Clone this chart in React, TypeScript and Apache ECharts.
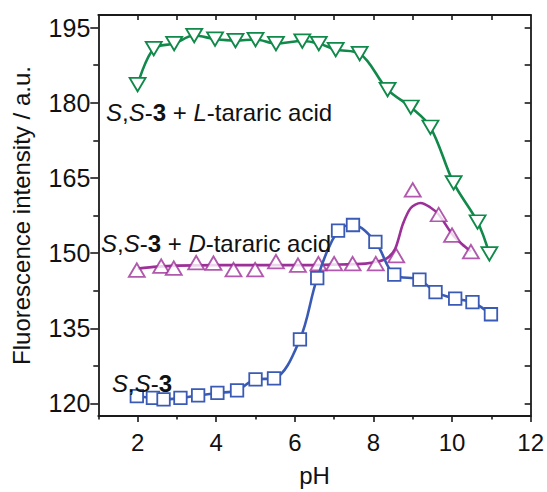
import React, { useEffect, useRef } from "react";
import * as echarts from "echarts";

// S,S-3 + L-tartaric acid (down triangles, green)
const lTarX = [2.0, 2.41, 2.93, 3.44, 3.97, 4.49, 5.0, 5.52, 6.19, 6.61, 7.04, 7.65, 8.36, 8.95, 9.45, 10.04, 10.65, 10.95];
const lTarY = [183.6, 190.8, 191.8, 193.4, 192.7, 192.4, 192.6, 191.8, 192.3, 191.8, 190.6, 189.8, 182.6, 179.1, 175.1, 164.0, 156.2, 149.85];

// S,S-3 + D-tartaric acid (up triangles, magenta)
const dTarX = [1.98, 2.6, 2.92, 3.49, 3.93, 4.44, 4.99, 5.52, 6.08, 6.6, 7.0, 7.47, 8.06, 8.58, 9.0, 9.66, 10.0, 10.48];
const dTarY = [146.6, 147.4, 147.0, 148.1, 148.0, 146.7, 146.7, 148.3, 147.6, 147.9, 147.9, 147.9, 147.9, 149.5, 162.6, 157.7, 153.6, 150.3];

// fitted curve for D-tartaric acid
const dFitX = [2.0, 2.5, 3.0, 4.0, 5.0, 6.0, 7.0, 7.8, 8.1, 8.35, 8.55, 8.75, 8.95, 9.2, 9.45, 9.66, 10.0, 10.25, 10.48];
const dFitY = [146.9, 147.3, 147.5, 147.6, 147.6, 147.6, 147.7, 147.9, 148.3, 149.0, 150.8, 155.8, 159.0, 160.0, 159.1, 157.7, 153.8, 151.8, 150.3];

// S,S-3 alone (squares, blue)
const ssX = [1.98, 2.39, 2.66, 3.09, 3.54, 4.03, 4.53, 5.0, 5.47, 6.13, 6.57, 7.1, 7.48, 8.05, 8.53, 9.17, 9.58, 10.08, 10.52, 10.99];
const ssY = [121.45, 121.1, 120.8, 121.1, 121.6, 122.1, 122.6, 124.8, 125.0, 132.8, 145.0, 154.5, 155.6, 152.25, 145.7, 144.7, 142.2, 140.9, 140.2, 137.8];

const xMajor = [2, 4, 6, 8, 10, 12];
const xMinor = [1, 3, 5, 7, 9, 11];
const xTop = [2, 3, 4, 5, 6, 7, 8, 9, 10, 11];
const yMajor = [120, 135, 150, 165, 180, 195];
const yMinor = [127.5, 142.5, 157.5, 172.5, 187.5];
const yAll = [120, 127.5, 135, 142.5, 150, 157.5, 165, 172.5, 180, 187.5, 195];

const GREEN = "#11894a";
const MAGENTA = "#9c2f98";
const BLUE = "#3a5bb5";
const AXIS = "#1a1a1a";
const FONT = "'Liberation Sans', Arial, sans-serif";

const zip = (xs: number[], ys: number[]) => xs.map((x, i) => [x, ys[i]]);

export default function App() {
  const ref = useRef<HTMLDivElement>(null);
  useEffect(() => {
    if (!ref.current) return;
    const chart = echarts.init(ref.current, null, { renderer: "svg" });
    const lineAxis = { show: true, lineStyle: { color: AXIS, width: 1.8 } };
    const tickStyle = { color: AXIS, width: 1.6 };
    const rich = (size: number) => ({
      i: { fontStyle: "italic", fontSize: size, fontFamily: FONT, fill: "#111" },
      b: { fontWeight: "bold", fontSize: size, fontFamily: FONT, fill: "#111" },
    });
    const textStyle = (text: string, x: number, y: number) => ({
      type: "text",
      x,
      y,
      z: 100,
      style: {
        text,
        fontSize: 24,
        fontFamily: FONT,
        fill: "#111",
        align: "left",
        verticalAlign: "middle",
        rich: rich(24),
      },
    });
    chart.setOption({
      animation: false,
      backgroundColor: "#fff",
      grid: { left: 98.3, right: 12.7, top: 15, bottom: 68.5, containLabel: false },
      xAxis: [
        {
          type: "value",
          min: 1,
          max: 12,
          position: "bottom",
          axisLine: lineAxis,
          axisTick: { show: true, inside: false, length: 6, customValues: xMajor, lineStyle: tickStyle },
          axisLabel: { customValues: xMajor, fontSize: 24, fontFamily: FONT, color: "#111", margin: 14 },
          splitLine: { show: false },
          name: "pH",
          nameLocation: "middle",
          nameGap: 47,
          nameTextStyle: { fontSize: 24, fontFamily: FONT, color: "#111" },
        },
        {
          type: "value",
          min: 1,
          max: 12,
          position: "bottom",
          axisLine: { show: false },
          axisTick: { show: true, inside: false, length: 3.5, customValues: xMinor, lineStyle: tickStyle },
          axisLabel: { show: false },
          splitLine: { show: false },
        },
        {
          type: "value",
          min: 1,
          max: 12,
          position: "top",
          axisLine: lineAxis,
          axisTick: { show: true, inside: true, length: 5, customValues: xTop, lineStyle: tickStyle },
          axisLabel: { show: false },
          splitLine: { show: false },
        },
      ],
      yAxis: [
        {
          type: "value",
          min: 117.5,
          max: 197.5,
          position: "left",
          axisLine: lineAxis,
          axisTick: { show: true, inside: false, length: 8, customValues: yMajor, lineStyle: tickStyle },
          axisLabel: { customValues: yMajor, fontSize: 25, fontFamily: FONT, color: "#111", margin: 8 },
          splitLine: { show: false },
          name: "Fluorescence intensity / a.u.",
          nameLocation: "middle",
          nameGap: 65,
          nameTextStyle: { fontSize: 24, fontFamily: FONT, color: "#111" },
        },
        {
          type: "value",
          min: 117.5,
          max: 197.5,
          position: "left",
          axisLine: { show: false },
          axisTick: { show: true, inside: false, length: 5, customValues: yMinor, lineStyle: tickStyle },
          axisLabel: { show: false },
          splitLine: { show: false },
        },
        {
          type: "value",
          min: 117.5,
          max: 197.5,
          position: "right",
          axisLine: lineAxis,
          axisTick: { show: true, inside: true, length: 6, customValues: yAll, lineStyle: tickStyle },
          axisLabel: { show: false },
          splitLine: { show: false },
        },
      ],
      series: [
        {
          type: "line",
          name: "D fit",
          xAxisIndex: 0,
          yAxisIndex: 0,
          data: zip(dFitX, dFitY),
          smooth: 0.3,
          showSymbol: false,
          symbol: "none",
          lineStyle: { color: MAGENTA, width: 2.6 },
          z: 2,
        },
        {
          type: "scatter",
          name: "S,S-3 + D-tartaric acid",
          xAxisIndex: 0,
          yAxisIndex: 0,
          data: zip(dTarX, dTarY),
          symbol: "triangle",
          symbolSize: [16, 13.5],
          itemStyle: { color: "#fff", borderColor: MAGENTA, borderWidth: 1.8 },
          z: 3,
        },
        {
          type: "line",
          name: "S,S-3",
          xAxisIndex: 0,
          yAxisIndex: 0,
          data: zip(ssX, ssY),
          smooth: 0.35,
          symbol: "rect",
          symbolSize: 12.5,
          showAllSymbol: true,
          lineStyle: { color: BLUE, width: 2.6 },
          itemStyle: { color: "#fff", borderColor: BLUE, borderWidth: 1.8 },
          z: 4,
        },
        {
          type: "line",
          name: "S,S-3 + L-tartaric acid",
          xAxisIndex: 0,
          yAxisIndex: 0,
          data: zip(lTarX, lTarY),
          smooth: 0.35,
          symbol: "triangle",
          symbolRotate: 180,
          symbolSize: [16, 13.5],
          showAllSymbol: true,
          lineStyle: { color: GREEN, width: 2.6 },
          itemStyle: { color: "#fff", borderColor: GREEN, borderWidth: 1.8 },
          z: 5,
        },
      ],
      graphic: [
        textStyle("{i|S},{i|S}-{b|3} + {i|L}-tararic acid", 106, 112),
        textStyle("{i|S},{i|S}-{b|3} + {i|D}-tararic acid", 101, 243.5),
        textStyle("{i|S},{i|S}-{b|3}", 112, 383),
      ],
    });
    return () => chart.dispose();
  }, []);
  return (
    <div
      ref={ref}
      style={{ position: "absolute", left: 0, top: 0, width: 547, height: 492, background: "#fff" }}
    />
  );
}
